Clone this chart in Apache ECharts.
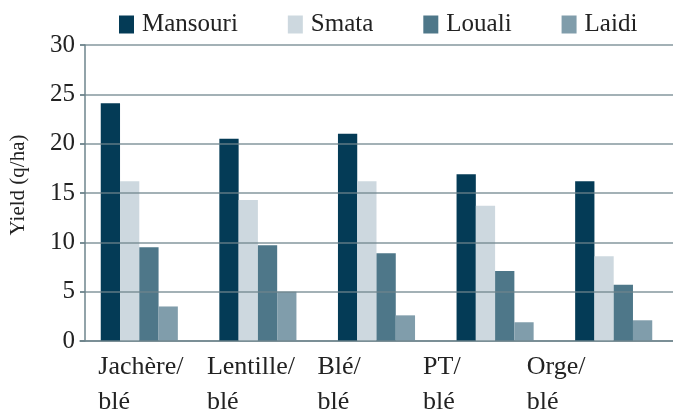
<!DOCTYPE html>
<html>
<head>
<meta charset="utf-8">
<script src="https://cdn.jsdelivr.net/npm/echarts@6/dist/echarts.min.js"></script>
<style>html,body{margin:0;padding:0;background:#fff}#c{width:673px;height:414px}</style>
</head>
<body>
<div id="c"></div>
<script>
var categories = ['Jachère/\nblé', 'Lentille/\nblé', 'Blé/\nblé', 'PT/\nblé', 'Orge/\nblé'];
var seriesNames = ['Mansouri', 'Smata', 'Louali', 'Laidi'];
var mansouri = [24.1, 20.5, 21.0, 16.9, 16.2];
var smata = [16.2, 14.3, 16.2, 13.7, 8.6];
var louali = [9.5, 9.7, 8.9, 7.1, 5.7];
var laidi = [3.5, 5.0, 2.6, 1.9, 2.1];
var yTicks = [0, 5, 10, 15, 20, 25, 30];

var colors = ['#043b56', '#cdd8df', '#4e7789', '#809dab'];
var values = [mansouri, smata, louali, laidi];
var font = '"Liberation Serif", "Times New Roman", serif';
var labelWidths = [82, 102, 118, 144, 174];
var rich = {};
labelWidths.forEach(function (w, i) {
  rich['c' + i] = { width: w, align: 'left', fontSize: 26, lineHeight: 35, fontFamily: font, color: '#222' };
});

var chart = echarts.init(document.getElementById('c'));
chart.setOption({
  animation: false,
  color: colors,
  legend: {
    left: 114, top: 7,
    itemWidth: 15, itemHeight: 18, itemGap: 50,
    icon: 'rect',
    textStyle: { fontFamily: font, fontSize: 25, color: '#222', padding: [0, 0, 0, 3] },
    data: seriesNames
  },
  grid: { left: 80, right: 0, top: 45, bottom: 73, containLabel: false, outerBoundsMode: 'none' },
  xAxis: {
    type: 'category',
    data: categories,
    axisTick: { show: false },
    axisLine: { lineStyle: { color: '#6e848c', width: 1.5 } },
    axisLabel: {
      interval: 0, margin: 9, align: 'center',
      hideOverlap: false,
      rich: rich,
      formatter: function (v, i) {
        return v.split('\n').map(function (s) { return '{c' + i + '|' + s + '}'; }).join('\n');
      }
    }
  },
  yAxis: {
    type: 'value',
    min: yTicks[0], max: yTicks[yTicks.length - 1], interval: 5,
    offset: -5,
    z: 5,
    name: 'Yield (q/ha)',
    nameLocation: 'middle',
    nameGap: 56,
    nameTextStyle: { fontFamily: font, fontSize: 21, color: '#222', padding: [0, 0, 0, 16] },
    axisLine: { show: true, lineStyle: { color: '#6e848c', width: 1.5 } },
    axisTick: { show: true, length: 5, lineStyle: { color: '#6e848c', width: 1.5 } },
    axisLabel: { fontFamily: font, fontSize: 25, color: '#222', margin: 10 },
    splitLine: { show: true, lineStyle: { color: '#6e848c', width: 1.5, opacity: 0.85 } }
  },
  series: seriesNames.map(function (n, k) {
    return {
      name: n, type: 'bar', data: values[k],
      barGap: '0%', barCategoryGap: '35%',
      itemStyle: { color: colors[k] }
    };
  })
});
</script>
</body>
</html>
